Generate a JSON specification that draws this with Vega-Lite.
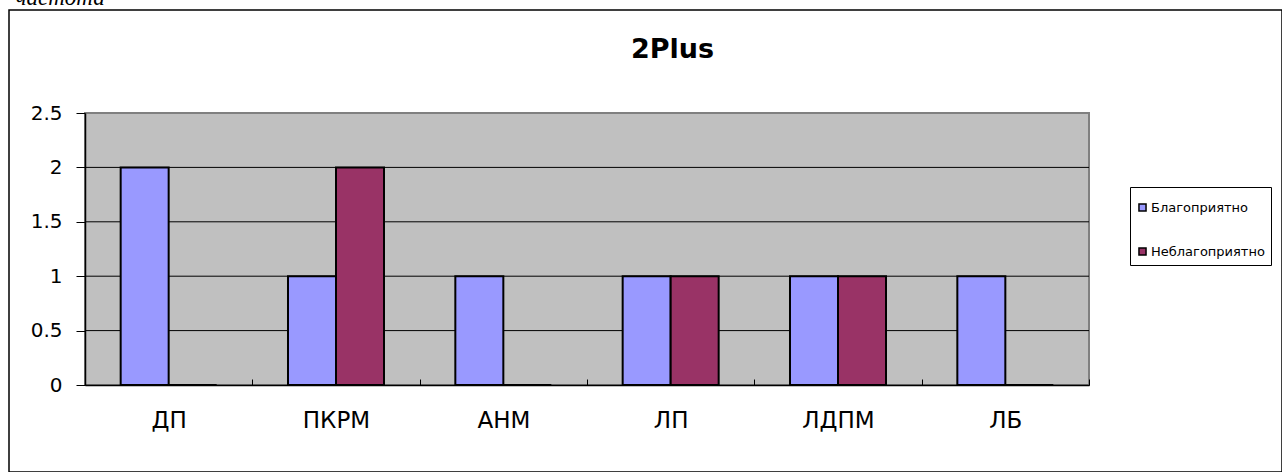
{
  "$schema": "https://vega.github.io/schema/vega-lite/v6.json",
  "autosize": "none",
  "padding": {"left": 9, "top": 10, "right": 0, "bottom": 0},
  "width": 1273,
  "height": 462,
  "background": "white",
  "title": {"text": "2Plus", "font": "DejaVu Sans", "fontSize": 27, "fontWeight": "bold", "color": "black", "anchor": "middle", "dx": 27, "dy": 78, "offset": 0},
  "config": {
    "view": {"stroke": "black", "strokeWidth": 1.5, "fill": "white"},
    "font": "DejaVu Sans"
  },
  "data": {"values": [
    {"cat": "ДП", "series": "Благоприятно", "value": 2},
    {"cat": "ДП", "series": "Неблагоприятно", "value": 0},
    {"cat": "ПКРМ", "series": "Благоприятно", "value": 1},
    {"cat": "ПКРМ", "series": "Неблагоприятно", "value": 2},
    {"cat": "АНМ", "series": "Благоприятно", "value": 1},
    {"cat": "АНМ", "series": "Неблагоприятно", "value": 0},
    {"cat": "ЛП", "series": "Благоприятно", "value": 1},
    {"cat": "ЛП", "series": "Неблагоприятно", "value": 1},
    {"cat": "ЛДПМ", "series": "Благоприятно", "value": 1},
    {"cat": "ЛДПМ", "series": "Неблагоприятно", "value": 1},
    {"cat": "ЛБ", "series": "Благоприятно", "value": 1},
    {"cat": "ЛБ", "series": "Неблагоприятно", "value": 0}
  ]},
  "resolve": {"scale": {"x": "independent"}, "axis": {"x": "independent"}},
  "layer": [
    {
      "mark": {"type": "rect", "fill": "#C0C0C0", "stroke": "#808080", "strokeWidth": 2},
      "encoding": {
        "x": {"datum": 0, "type": "quantitative", "scale": {"domain": [0, 1], "range": [76, 1080], "nice": false, "zero": false}, "axis": null},
        "x2": {"datum": 1},
        "y": {
          "datum": 0, "type": "quantitative",
          "scale": {"domain": [0, 2.5], "range": [375, 103], "nice": false},
          "axis": {
            "title": "частота", "titleAngle": 0, "titleAlign": "left", "titleBaseline": "alphabetic",
            "titleX": -70, "titleY": -6, "titleFont": "Liberation Serif", "titleFontStyle": "italic",
            "titleFontWeight": "normal", "titleFontSize": 23, "titleColor": "black",
            "orient": "left", "offset": -76, "values": [0, 0.5, 1, 1.5, 2, 2.5], "format": "~g",
            "grid": false, "domainColor": "black", "domainWidth": 1.5,
            "tickColor": "black", "tickSize": 9, "tickWidth": 1,
            "labelFont": "DejaVu Sans", "labelFontSize": 20, "labelColor": "black", "labelPadding": 14,
            "zindex": 1
          }
        },
        "y2": {"datum": 2.5}
      }
    },
    {
      "data": {"values": [{"g": 0.5}, {"g": 1}, {"g": 1.5}, {"g": 2}]},
      "mark": {"type": "rule", "color": "black", "strokeWidth": 1},
      "encoding": {
        "x": {"datum": 0, "type": "quantitative", "scale": {"domain": [0, 1], "range": [76, 1080], "nice": false, "zero": false}, "axis": null},
        "x2": {"datum": 1},
        "y": {
          "field": "g", "type": "quantitative",
          "scale": {"domain": [0, 2.5], "range": [375, 103], "nice": false},
          "axis": {
            "title": "частота", "titleAngle": 0, "titleAlign": "left", "titleBaseline": "alphabetic",
            "titleX": -70, "titleY": -6, "titleFont": "Liberation Serif", "titleFontStyle": "italic",
            "titleFontWeight": "normal", "titleFontSize": 23, "titleColor": "black",
            "orient": "left", "offset": -76, "values": [0, 0.5, 1, 1.5, 2, 2.5], "format": "~g",
            "grid": false, "domainColor": "black", "domainWidth": 1.5,
            "tickColor": "black", "tickSize": 9, "tickWidth": 1,
            "labelFont": "DejaVu Sans", "labelFontSize": 20, "labelColor": "black", "labelPadding": 14,
            "zindex": 1
          }
        }
      }
    },
    {
      "mark": {"type": "bar", "stroke": "black", "strokeWidth": 2},
      "encoding": {
        "x": {
          "field": "cat", "type": "nominal", "sort": null,
          "scale": {"range": [76, 1080], "paddingInner": 0, "paddingOuter": 0},
          "axis": {
            "title": null, "orient": "bottom", "offset": -87, "labelAngle": 0,
            "domainColor": "black", "domainWidth": 1.5,
            "tickBand": "extent", "tickColor": "black", "tickSize": -6, "tickWidth": 1,
            "labelFont": "DejaVu Sans", "labelFontSize": 23, "labelColor": "black",
            "labelPadding": 30, "labelBaseline": "top", "grid": false, "zindex": 1
          }
        },
        "xOffset": {"field": "series", "type": "nominal", "sort": ["Благоприятно", "Неблагоприятно"], "scale": {"paddingInner": 0, "paddingOuter": 0.743}},
        "y": {
          "field": "value", "type": "quantitative",
          "scale": {"domain": [0, 2.5], "range": [375, 103], "nice": false},
          "axis": {
            "title": "частота", "titleAngle": 0, "titleAlign": "left", "titleBaseline": "alphabetic",
            "titleX": -70, "titleY": -6, "titleFont": "Liberation Serif", "titleFontStyle": "italic",
            "titleFontWeight": "normal", "titleFontSize": 23, "titleColor": "black",
            "orient": "left", "offset": -76, "values": [0, 0.5, 1, 1.5, 2, 2.5], "format": "~g",
            "grid": false, "domainColor": "black", "domainWidth": 1.5,
            "tickColor": "black", "tickSize": 9, "tickWidth": 1,
            "labelFont": "DejaVu Sans", "labelFontSize": 20, "labelColor": "black", "labelPadding": 14,
            "zindex": 1
          }
        },
        "color": {
          "field": "series", "type": "nominal",
          "scale": {"domain": ["Благоприятно", "Неблагоприятно"], "range": ["#9999FF", "#993366"]},
          "legend": {
            "title": " ", "titleFontSize": 7, "titlePadding": 1, "orient": "none", "legendX": 1121, "legendY": 177,
            "strokeColor": "black", "fillColor": "white", "padding": 6,
            "symbolType": "square", "symbolSize": 50, "symbolStrokeColor": "black", "symbolStrokeWidth": 1.5,
            "labelFont": "DejaVu Sans", "labelFontSize": 13, "labelColor": "black", "labelOffset": 2,
            "rowPadding": 29
          }
        }
      }
    }
  ]
}
